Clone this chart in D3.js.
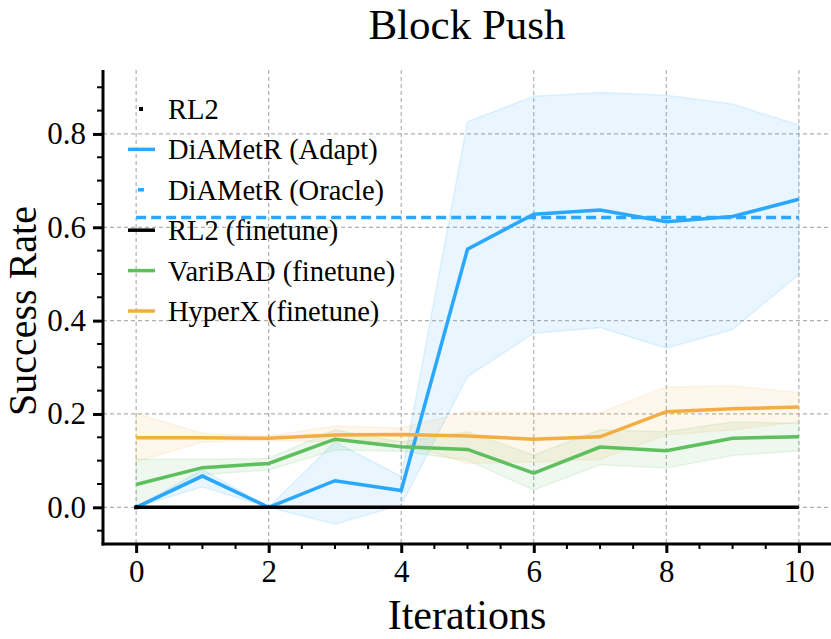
<!DOCTYPE html>
<html>
<head>
<meta charset="utf-8">
<script src="https://cdn.jsdelivr.net/npm/d3@7"></script>
<style>
  body { margin: 0; background: #fff; }
  text { font-family: "Liberation Serif", "Times New Roman", serif; fill: #000; }
</style>
</head>
<body>
<script>
// chart size
const width = 831;
const height = 639;

// data
const iterations = [0, 1, 2, 3, 4, 5, 6, 7, 8, 9, 10];
const rl2Points = [0];
const adaptMean = [0, 0.067, 0, 0.057, 0.036, 0.553, 0.628, 0.637, 0.612, 0.623, 0.660];
const adaptLow = [0, 0.044, 0, -0.036, 0.005, 0.28, 0.373, 0.385, 0.341, 0.381, 0.499];
const adaptHigh = [0, 0.081, 0, 0.14, 0.066, 0.826, 0.881, 0.889, 0.883, 0.864, 0.819];
const oracleValue = 0.621;
const rl2Finetune = [0, 0, 0, 0, 0, 0, 0, 0, 0, 0, 0];
const variMean = [0.049, 0.085, 0.094, 0.146, 0.130, 0.124, 0.073, 0.129, 0.121, 0.148, 0.151];
const variLow = [0.0, 0.07, 0.08, 0.123, 0.12, 0.101, 0.037, 0.091, 0.084, 0.111, 0.121];
const variHigh = [0.103, 0.103, 0.105, 0.166, 0.14, 0.162, 0.112, 0.166, 0.162, 0.183, 0.18];
const hyperMean = [0.149, 0.149, 0.148, 0.155, 0.156, 0.153, 0.146, 0.151, 0.205, 0.211, 0.215];
const hyperLow = [0.098, 0.14, 0.143, 0.14, 0.14, 0.094, 0.097, 0.103, 0.155, 0.166, 0.183];
const hyperHigh = [0.201, 0.158, 0.153, 0.174, 0.17, 0.205, 0.202, 0.202, 0.258, 0.26, 0.246];
const xTicks = [0, 2, 4, 6, 8, 10];
const yTicks = [0, 0.2, 0.4, 0.6, 0.8];
const legendLabels = ["RL2", "DiAMetR (Adapt)", "DiAMetR (Oracle)", "RL2 (finetune)", "VariBAD (finetune)", "HyperX (finetune)"];

const blue = "#2aa8ff";
const green = "#5dbf5d";
const orange = "#f4ad42";

var svg, x_scale, y_scale;
const plotLeft = 103, plotRight = 832, plotTop = 70, plotBottom = 544;

function generateScale() {
    x_scale = d3.scaleLinear().domain([-0.5, 10.5]).range([plotLeft, plotRight]);
    y_scale = d3.scaleLinear().domain([-0.0786, 0.937]).range([plotBottom, plotTop]);
}

function generateGrid() {
    const grid = svg.append("g").attr("stroke", "#b0b0b0").attr("stroke-width", 1.2)
        .attr("stroke-dasharray", "4,3");
    grid.selectAll(".gx").data(xTicks).enter().append("line")
        .attr("x1", d => x_scale(d)).attr("x2", d => x_scale(d))
        .attr("y1", plotTop).attr("y2", plotBottom);
    grid.selectAll(".gy").data(yTicks).enter().append("line")
        .attr("x1", plotLeft).attr("x2", plotRight)
        .attr("y1", d => y_scale(d)).attr("y2", d => y_scale(d));
}

function drawBand(low, high, color) {
    const area = d3.area()
        .x((d, i) => x_scale(iterations[i]))
        .y0((d, i) => y_scale(low[i]))
        .y1((d, i) => y_scale(high[i]));
    svg.append("path").datum(iterations).attr("d", area)
        .attr("fill", color).attr("fill-opacity", 0.1)
        .attr("stroke", color).attr("stroke-opacity", 0.12).attr("stroke-width", 1.5);
}

function drawLine(values, color, dash) {
    const line = d3.line().x((d, i) => x_scale(iterations[i])).y(d => y_scale(d));
    svg.append("path").datum(values).attr("d", line)
        .attr("fill", "none").attr("stroke", color).attr("stroke-width", 3.5)
        .attr("stroke-dasharray", dash || null);
}

function generateAxis() {
    // x axis with minor ticks every 0.5
    const x_axis = d3.axisBottom(x_scale).tickValues(xTicks).tickSize(9).tickPadding(7);
    const gx = svg.append("g").attr("transform", "translate(0," + plotBottom + ")").call(x_axis);
    gx.select(".domain").remove();
    gx.selectAll(".tick line").attr("stroke-width", 3);
    gx.selectAll("text").style("font-size", "31px").attr("font-family", null);
    const xMinor = d3.range(0, 10.01, 0.5).filter(d => d % 2 !== 0);
    gx.selectAll(".minor").data(xMinor).enter().append("line")
        .attr("x1", d => x_scale(d)).attr("x2", d => x_scale(d))
        .attr("y1", 0).attr("y2", 5).attr("stroke", "#000").attr("stroke-width", 2);

    const y_axis = d3.axisLeft(y_scale).tickValues(yTicks).tickFormat(d3.format(".1f")).tickSize(10).tickPadding(7);
    const gy = svg.append("g").attr("transform", "translate(" + plotLeft + ",0)").call(y_axis);
    gy.select(".domain").remove();
    gy.selectAll(".tick line").attr("stroke-width", 3);
    gy.selectAll("text").style("font-size", "31px").attr("font-family", null);
    const yMinor = d3.range(-0.05, 0.91, 0.05).filter(d => Math.round(d * 100) % 20 !== 0);
    gy.selectAll(".minor").data(yMinor).enter().append("line")
        .attr("x1", 0).attr("x2", -6)
        .attr("y1", d => y_scale(d)).attr("y2", d => y_scale(d))
        .attr("stroke", "#000").attr("stroke-width", 2);

    // spines
    svg.append("line").attr("x1", plotLeft).attr("x2", plotLeft).attr("y1", plotTop).attr("y2", plotBottom + 1.5)
        .attr("stroke", "#000").attr("stroke-width", 3);
    svg.append("line").attr("x1", plotLeft - 1.5).attr("x2", plotRight).attr("y1", plotBottom).attr("y2", plotBottom)
        .attr("stroke", "#000").attr("stroke-width", 3);
}

function generateText() {
    svg.append("text").attr("x", 467).attr("y", 38.5).style("text-anchor", "middle")
        .style("font-size", "43px").text("Block Push");
    svg.append("text").attr("x", 467).attr("y", 629).style("text-anchor", "middle")
        .style("font-size", "42px").text("Iterations");
    svg.append("text").attr("transform", "translate(36,311) rotate(-90)").style("text-anchor", "middle")
        .style("font-size", "40px").text("Success Rate");
}

function generateLegend() {
    const colors = ["#000", blue, blue, "#000", green, orange];
    const g = svg.append("g");
    legendLabels.forEach((label, i) => {
        const y = 109 + i * 40.4;
        if (i === 0) {
            g.append("rect").attr("x", 139).attr("y", y - 2).attr("width", 4).attr("height", 4).attr("fill", "#000");
        } else if (i === 2) {
            g.append("rect").attr("x", 138).attr("y", y - 1.75).attr("width", 6).attr("height", 3.5).attr("fill", blue);
        } else {
            g.append("line").attr("x1", 128).attr("x2", 155).attr("y1", y).attr("y2", y)
                .attr("stroke", colors[i]).attr("stroke-width", 3.5);
        }
        g.append("text").attr("x", 168).attr("y", y).attr("dy", "0.35em")
            .style("font-size", "28.5px").text(label);
    });
}

document.addEventListener('DOMContentLoaded', function () {
    svg = d3.select("body").append("svg").attr("width", width).attr("height", height);
    generateScale();
    generateGrid();
    drawBand(adaptLow, adaptHigh, blue);
    drawBand(variLow, variHigh, green);
    drawBand(hyperLow, hyperHigh, orange);
    generateLegend();
    drawLine(adaptMean, blue);
    drawLine(iterations.map(() => oracleValue), blue, "10,5");
    // RL2 scatter point, sits under the finetune line
    svg.selectAll(".rl2").data(rl2Points).enter().append("rect")
        .attr("x", (d, i) => x_scale(iterations[i]) - 2).attr("y", d => y_scale(d) - 2)
        .attr("width", 4).attr("height", 4).attr("fill", "#000");
    drawLine(rl2Finetune, "#000");
    drawLine(variMean, green);
    drawLine(hyperMean, orange);
    generateAxis();
    generateText();
});
</script>
</body>
</html>
